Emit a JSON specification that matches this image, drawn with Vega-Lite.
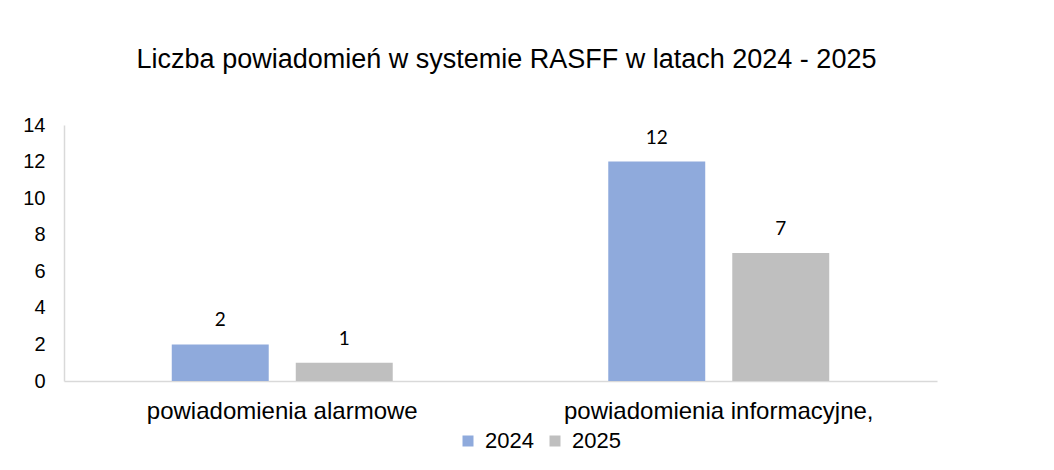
{
  "$schema": "https://vega.github.io/schema/vega-lite/v6.json",
  "width": 873,
  "height": 256,
  "autosize": {"type": "none"},
  "padding": {"left": 64, "top": 125, "right": 117, "bottom": 89},
  "background": "white",
  "config": {
    "view": {"stroke": null},
    "font": "Liberation Sans",
    "axis": {"labelColor": "#000000", "labelFont": "Liberation Sans", "ticks": false, "grid": false, "domainColor": "#D9D9D9", "domainWidth": 1.5}
  },
  "title": {
    "text": "Liczba powiadomień w systemie RASFF w latach 2024 - 2025",
    "font": "Liberation Sans",
    "fontSize": 27,
    "fontWeight": "normal",
    "color": "#000000",
    "anchor": "middle",
    "offset": 41,
    "dx": 6
  },
  "data": {
    "values": [
      {"cat": "powiadomienia alarmowe", "year": "2024", "value": 2},
      {"cat": "powiadomienia alarmowe", "year": "2025", "value": 1},
      {"cat": "powiadomienia informacyjne,", "year": "2024", "value": 12},
      {"cat": "powiadomienia informacyjne,", "year": "2025", "value": 7}
    ]
  },
  "encoding": {
    "x": {
      "field": "cat",
      "type": "nominal",
      "sort": null,
      "scale": {"paddingInner": 0, "paddingOuter": 0},
      "axis": {"title": null, "labelAngle": 0, "labelPadding": 18, "labelFontSize": 24, "labelLimit": 0}
    },
    "xOffset": {
      "field": "year",
      "type": "nominal",
      "scale": {"paddingInner": 0.218, "paddingOuter": 0.869}
    },
    "y": {
      "field": "value",
      "type": "quantitative",
      "scale": {"domain": [0, 14]},
      "axis": {"title": null, "values": [0, 2, 4, 6, 8, 10, 12, 14], "labelPadding": 19, "labelFontSize": 20}
    }
  },
  "layer": [
    {
      "mark": {"type": "bar"},
      "encoding": {
        "color": {
          "field": "year",
          "type": "nominal",
          "scale": {"domain": ["2024", "2025"], "range": ["#8FAADC", "#BFBFBF"]},
          "legend": {
            "title": null,
            "orient": "none",
            "direction": "horizontal",
            "legendX": 393,
            "legendY": 305,
            "padding": 0,
            "symbolType": "square",
            "symbolSize": 121,
            "symbolStrokeWidth": 0,
            "symbolOpacity": 1,
            "labelFontSize": 22,
            "labelFont": "Liberation Sans",
            "labelColor": "#000000",
            "labelOffset": 6,
            "columnPadding": 10
          }
        }
      }
    },
    {
      "mark": {"type": "text", "baseline": "bottom", "dy": -14, "font": "Lato", "fontSize": 19, "color": "#000000"},
      "encoding": {"text": {"field": "value", "type": "quantitative"}}
    }
  ]
}
